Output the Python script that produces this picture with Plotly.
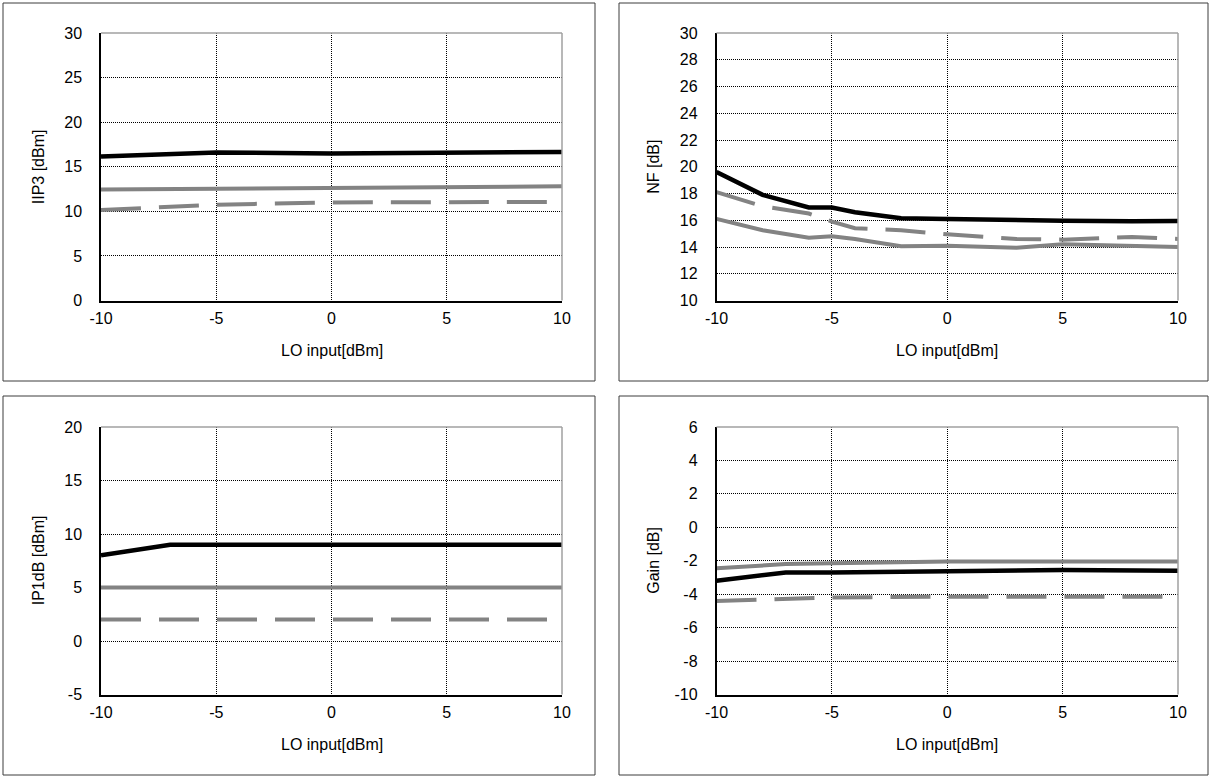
import plotly.graph_objects as go

# ---------------- data ----------------
lo_iip3 = [-10, -5, 0, 5, 10]
iip3_black = [16.15, 16.6, 16.5, 16.55, 16.65]
iip3_gray = [12.45, 12.55, 12.65, 12.8, 12.8]
iip3_dash = [10.15, 10.75, 11.0, 11.0, 11.05]

lo_nf = [-10, -8, -6, -5, -4, -2, 0, 3, 5, 8, 10]
nf_black = [19.6, 17.9, 16.95, 16.95, 16.6, 16.15, 16.1, 16.0, 15.97, 15.92, 15.95]
nf_gray = [16.1, 15.25, 14.7, 14.8, 14.6, 14.05, 14.1, 13.95, 14.2, 14.1, 14.0]
nf_dash = [18.1, 17.05, 16.5, 15.9, 15.4, 15.25, 14.95, 14.6, 14.55, 14.75, 14.6]

lo_ip1 = [-10, -7, -5, 0, 5, 10]
ip1_black = [8.0, 9.0, 9.0, 9.0, 9.0, 9.0]
ip1_gray = [5, 5, 5, 5, 5, 5]
ip1_dash = [2, 2, 2, 2, 2, 2]

lo_gain = [-10, -7, -5, 0, 5, 10]
gain_black = [-3.2, -2.7, -2.7, -2.6, -2.55, -2.6]
gain_gray = [-2.45, -2.2, -2.15, -2.05, -2.05, -2.05]
gain_dash = [-4.4, -4.25, -4.2, -4.15, -4.15, -4.15]

x_ticks = [-10, -5, 0, 5, 10]
x_ticklabels = ["-10", "-5", "0", "5", "10"]
x_title = "LO input[dBm]"
y_titles = ["IIP3 [dBm]", "NF [dB]", "IP1dB [dBm]", "Gain [dB]"]
y_ticks = [
    [0, 5, 10, 15, 20, 25, 30],
    [10, 12, 14, 16, 18, 20, 22, 24, 26, 28, 30],
    [-5, 0, 5, 10, 15, 20],
    [-10, -8, -6, -4, -2, 0, 2, 4, 6],
]
y_ticklabels = [
    ["0", "5", "10", "15", "20", "25", "30"],
    ["10", "12", "14", "16", "18", "20", "22", "24", "26", "28", "30"],
    ["-5", "0", "5", "10", "15", "20"],
    ["-10", "-8", "-6", "-4", "-2", "0", "2", "4", "6"],
]

# ---------------- layout helpers ----------------
W, H = 1212, 778
def px(x):
    return x / W
def py(y):
    return 1 - y / H

col_plot = [(101, 562), (716.5, 1178)]
row_plot = [(33, 300.5), (427, 694.5)]
col_frame = [(3, 595), (619, 1208)]
row_frame = [(3, 381), (396, 775)]

FONT = "Liberation Sans, Arial, sans-serif"
BLACK = "#000000"
GRAY = "#838383"

fig = go.Figure()

panels = [
    (lo_iip3, iip3_black, iip3_gray, iip3_dash),
    (lo_nf, nf_black, nf_gray, nf_dash),
    (lo_ip1, ip1_black, ip1_gray, ip1_dash),
    (lo_gain, gain_black, gain_gray, gain_dash),
]

shapes = []
annotations = []
for i, (xs, yb, yg, yd) in enumerate(panels):
    r, c = divmod(i, 2)
    n = i + 1
    xa = "x" if n == 1 else f"x{n}"
    ya = "y" if n == 1 else f"y{n}"
    fig.add_trace(go.Scatter(x=xs, y=yd, mode="lines", xaxis=xa, yaxis=ya,
                             line=dict(color=GRAY, width=4, dash="40px,18px"),
                             showlegend=False, hoverinfo="skip"))
    fig.add_trace(go.Scatter(x=xs, y=yg, mode="lines", xaxis=xa, yaxis=ya,
                             line=dict(color=GRAY, width=4),
                             showlegend=False, hoverinfo="skip"))
    fig.add_trace(go.Scatter(x=xs, y=yb, mode="lines", xaxis=xa, yaxis=ya,
                             line=dict(color=BLACK, width=4.5),
                             showlegend=False, hoverinfo="skip"))
    x0, x1 = col_plot[c]
    y0, y1 = row_plot[r]
    xkey = "xaxis" if n == 1 else f"xaxis{n}"
    ykey = "yaxis" if n == 1 else f"yaxis{n}"
    fig.update_layout(**{
        xkey: dict(domain=[px(x0), px(x1)], anchor=ya, range=[-10, 10],
                   tickmode="array", tickvals=x_ticks, ticktext=x_ticklabels,
                   showgrid=True, gridcolor="#000000", griddash="1px,1px",
                   gridwidth=1, zeroline=False, showline=True, linecolor="#000000",
                   linewidth=1.5, ticks="", ticklabelstandoff=3, automargin=False,
                   tickfont=dict(family=FONT, size=16, color="#000"), fixedrange=True),
        ykey: dict(domain=[py(y1), py(y0)], anchor=xa, range=[y_ticks[i][0], y_ticks[i][-1]],
                   tickmode="array", tickvals=y_ticks[i], ticktext=y_ticklabels[i],
                   showgrid=True, automargin=False,
                   gridcolor="#000000", griddash="1px,1px", gridwidth=1,
                   zeroline=False, showline=True, linecolor="#000000", linewidth=1.5,
                   ticks="", ticklabelstandoff=14,
                   tickfont=dict(family=FONT, size=16, color="#000"), fixedrange=True),
    })
    # top and right plot border in gray
    shapes.append(dict(type="line", xref=f"{xa} domain", yref=f"{ya} domain",
                       x0=0, x1=1, y0=1, y1=1, line=dict(color="#a0a0a0", width=1.5)))
    shapes.append(dict(type="line", xref=f"{xa} domain", yref=f"{ya} domain",
                       x0=1, x1=1, y0=0, y1=1, line=dict(color="#a0a0a0", width=1.5)))
    # panel frame
    fx0, fx1 = col_frame[c]
    fy0, fy1 = row_frame[r]
    shapes.append(dict(type="rect", xref="paper", yref="paper",
                       x0=px(fx0), x1=px(fx1), y0=py(fy1), y1=py(fy0),
                       line=dict(color="#3c3c3c", width=1), fillcolor="rgba(0,0,0,0)",
                       layer="below"))
    # axis titles
    annotations.append(dict(text=x_title, xref="paper", yref="paper",
                            x=px((x0 + x1) / 2), y=py(y1 + 50), showarrow=False,
                            xanchor="center", yanchor="middle",
                            font=dict(family=FONT, size=16, color="#000")))
    annotations.append(dict(text=y_titles[i], xref="paper", yref="paper",
                            x=px(x0 - 62.5), y=py((y0 + y1) / 2), showarrow=False,
                            textangle=-90, xanchor="center", yanchor="middle",
                            font=dict(family=FONT, size=16, color="#000")))

fig.update_layout(width=W, height=H,
                  margin=dict(l=0, r=0, t=0, b=0, autoexpand=False),
                  paper_bgcolor="white", plot_bgcolor="white",
                  shapes=shapes, annotations=annotations, showlegend=False)

fig.write_html("out.html", config={"displayModeBar": False})
